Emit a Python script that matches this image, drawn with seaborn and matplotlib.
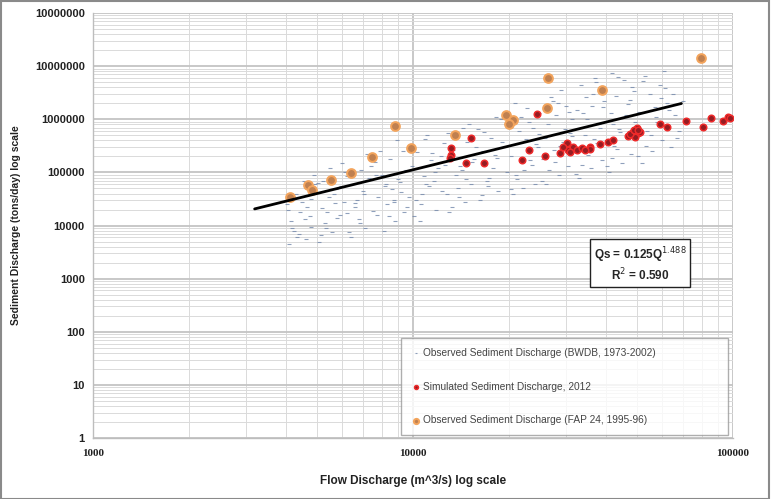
import numpy as np
import pandas as pd
import matplotlib
matplotlib.use("Agg")
import matplotlib.pyplot as plt
from matplotlib.patches import Rectangle
from matplotlib.ticker import LogLocator, FixedLocator, NullFormatter
import seaborn as sns

# ---------------- data ----------------
obs_q = [4100, 4350, 4200, 4600, 4450, 4050, 4800, 4300, 4700, 4550, 4900, 4150, 4650, 4400,
         5100, 5600, 5300, 5900, 5200, 6100, 5450, 5750, 5050, 6200, 5500, 6000, 5350, 5800, 5650,
         6400, 7100, 6800, 7500, 6600, 7800, 7000, 6500, 7300, 6900, 7600, 7200, 6700, 7700,
         8100, 8800, 9400, 8300, 9700, 8600, 9100, 8000, 9900, 8500, 9300, 8900, 9600, 8200, 9000,
         10500, 11800, 10200, 12300, 11000, 10800, 12000, 11400, 10300, 12500, 11100, 11600, 10700,
         13000, 14500, 12800, 15200, 13600, 14000, 15500, 13300, 14800, 12900, 15000, 14200, 13800,
         16200, 18500, 17000, 19600, 16800, 18000, 19200, 17500, 16000, 18800, 19800, 17300, 16500,
         20500, 22000, 24000, 21000, 23500, 20200, 24500, 22500, 21500, 23000, 24800, 20800, 22800, 23800,
         26000, 28500, 30500, 25500, 27500, 29500, 31000, 26500, 28000, 30000, 27000, 29000, 25800, 31300,
         33000, 36000, 39000, 32000, 37500, 34500, 38500, 35000, 32500, 39500, 36500, 33500, 37000, 38000, 34000,
         41000, 45000, 48000, 42500, 46500, 44000, 49500, 41500, 47000, 43000, 48500, 45500, 42000, 46000,
         52000, 56000, 60000, 54000, 58000, 51000, 62000, 55000, 59000, 53000, 61000, 57000,
         64000, 68000, 66000, 70000, 65000, 67000,
         4250, 4750, 4500, 4950, 4080, 4620, 5150, 5400, 5700, 5950, 6150, 5250, 6300, 6600, 7050,
         7400, 7650, 6850, 7900, 8400, 8700, 9200, 9500, 9800, 8250, 10100, 10600, 11200, 11700,
         12200, 10900, 12600, 13200, 13900, 14600, 15300, 13500, 15700, 16400, 17200, 17800, 18300,
         19000, 19500, 16700, 20300, 21200, 22300, 23200, 24200, 21700, 24700, 25300, 26700, 27800,
         28800, 29800, 30800, 27300, 31500, 32300, 33800, 35300, 36800, 38200, 39200, 34800, 37300,
         40500, 41800, 43500, 44500, 46200, 47800, 49000, 43800, 50500, 53500, 55500, 57500, 59500,
         61500, 63000, 52500, 42200, 36200, 28300, 22700, 18200, 14300, 11500, 8700, 6200, 4800]
obs_qs = [4500, 6000, 9000, 13000, 18000, 25000, 32000, 40000, 55000, 70000, 90000, 12000, 22000, 7000,
          5000, 7500, 11000, 16000, 21000, 28000, 35000, 48000, 62000, 85000, 120000, 150000, 9000, 14000, 40000,
          6000, 9000, 13000, 19000, 26000, 35000, 45000, 60000, 80000, 110000, 160000, 220000, 30000, 16000,
          8000, 12000, 18000, 25000, 35000, 48000, 65000, 90000, 130000, 180000, 250000, 400000, 22000, 55000, 75000,
          12000, 20000, 30000, 45000, 60000, 85000, 120000, 170000, 240000, 350000, 500000, 70000, 40000,
          18000, 28000, 40000, 60000, 90000, 130000, 180000, 260000, 380000, 550000, 800000, 110000, 50000,
          30000, 45000, 70000, 100000, 150000, 210000, 300000, 450000, 650000, 1000000, 1400000, 80000, 250000,
          40000, 50000, 60000, 90000, 140000, 200000, 300000, 420000, 600000, 900000, 1300000, 2000000, 250000, 700000,
          60000, 90000, 130000, 180000, 260000, 380000, 550000, 800000, 1200000, 1800000, 2600000, 3500000, 450000, 1000000,
          80000, 120000, 170000, 250000, 350000, 500000, 700000, 1000000, 1500000, 2200000, 3000000, 4500000, 6000000, 800000, 1300000,
          100000, 150000, 220000, 320000, 450000, 650000, 900000, 1300000, 1900000, 2700000, 4000000, 5500000, 7500000, 1100000,
          150000, 250000, 400000, 600000, 900000, 1400000, 2000000, 3000000, 4500000, 6500000, 8000000, 1700000,
          300000, 600000, 1200000, 2200000, 3000000, 450000,
          8000, 15000, 28000, 60000, 20000, 5500, 6500, 18000, 26000, 55000, 100000, 70000, 7500, 22000, 40000,
          130000, 90000, 11000, 250000, 15000, 30000, 42000, 110000, 300000, 60000, 15000, 25000, 55000, 100000,
          200000, 420000, 140000, 22000, 35000, 75000, 160000, 480000, 300000, 38000, 55000, 120000, 190000,
          380000, 800000, 580000, 48000, 75000, 110000, 170000, 340000, 1100000, 520000, 70000, 110000, 160000,
          320000, 650000, 1400000, 2200000, 480000, 95000, 140000, 210000, 420000, 850000, 1700000, 2600000, 5000000,
          130000, 190000, 280000, 580000, 1200000, 2300000, 3400000, 6200000, 200000, 320000, 500000, 1100000, 2500000,
          3800000, 1500000, 5200000, 800000, 1800000, 2000000, 1600000, 1100000, 700000, 230000, 28000, 17000, 9500]

sim_q = [13150, 13150, 13050, 15180, 14650, 16670, 21930, 23040, 24410, 25850, 28780, 30270, 30480,
         31620, 32550, 33740, 35730, 35730, 38390, 40650, 42170, 46990, 48700, 50120, 50480, 49400,
         51170, 59100, 62200, 71300, 80600, 85300, 93100, 96400, 97900, 29500, 31000, 34500, 47500, 49000, 50500]
sim_qs = [287000, 212000, 186000, 443000, 150000, 150000, 171000, 263000, 1250000, 203000, 231000, 356000, 263000,
          299000, 263000, 287000, 299000, 275000, 341000, 372000, 406000, 483000, 574000, 683000, 550000, 463000,
          574000, 813000, 713000, 925000, 713000, 1050000, 925000, 1100000, 1050000, 300000, 240000, 260000, 520000, 640000, 620000]

fap_q = [4130, 4700, 4830, 5540, 6390, 7450, 8790, 9860, 13500, 19500, 20500, 20000, 26400, 26200, 39000, 79400]
fap_qs = [34300, 57600, 46400, 71600, 97000, 194000, 745000, 287000, 500000, 1200000, 950000, 800000,
          5970000, 1620000, 3550000, 14200000]

trend_coef = 0.125
trend_exp = 1.488
trend_q_range = [3200, 69000]
r_squared = 0.590

y_ticks = [1, 10, 100, 1000, 10000, 100000, 1000000, 10000000, 100000000]
y_tick_labels = ["1", "10", "100", "1000", "10000", "100000", "1000000", "10000000", "10000000"]
x_ticks = [1000, 10000, 100000]
x_tick_labels = ["1000", "10000", "100000"]

lab_obs = "Observed Sediment Discharge (BWDB, 1973-2002)"
lab_sim = "Simulated Sediment Discharge, 2012"
lab_fap = "Observed Sediment Discharge (FAP 24, 1995-96)"

# ---------------- plot ----------------
sns.set_theme(style="white")
plt.rcParams["font.family"] = ["Liberation Sans", "DejaVu Sans"]

fig = plt.figure(figsize=(7.71, 4.99), dpi=100)
ax = fig.add_axes([0.1206, 0.1222, 0.8301, 0.8517])

df_obs = pd.DataFrame({"Q": obs_q, "Qs": obs_qs})
df_sim = pd.DataFrame({"Q": sim_q, "Qs": sim_qs})
df_fap = pd.DataFrame({"Q": fap_q, "Qs": fap_qs})

ax.set_xscale("log")
ax.set_yscale("log")

sns.scatterplot(data=df_obs, x="Q", y="Qs", ax=ax, marker="_", s=7, color="#6A80A6",
                linewidth=0.8, alpha=0.75, label=lab_obs, zorder=3)
sns.scatterplot(data=df_sim, x="Q", y="Qs", ax=ax, marker="o", s=22, color="#951C22",
                edgecolor="#EE2A2A", linewidth=1.1, label=lab_sim, zorder=4)
sns.scatterplot(data=df_fap, x="Q", y="Qs", ax=ax, marker="o", s=40, color="#BF8050",
                edgecolor="#F3A45C", linewidth=1.4, label=lab_fap, zorder=5)

tq = np.array(trend_q_range, dtype=float)
sns.lineplot(x=tq, y=trend_coef * tq ** trend_exp, ax=ax, color="black", linewidth=2.0, zorder=6)

ax.set_xlim(1000, 100000)
ax.set_ylim(1, 100000000)

ax.xaxis.set_major_locator(FixedLocator(x_ticks))
ax.set_xticklabels(x_tick_labels, fontsize=8, fontweight="bold", family="Liberation Serif", color="#222222")
ax.yaxis.set_major_locator(FixedLocator(y_ticks))
ax.set_yticklabels(y_tick_labels, fontsize=8, fontweight="bold", color="#222222")
ax.xaxis.set_minor_locator(LogLocator(base=10, subs=np.arange(2, 10)))
ax.yaxis.set_minor_locator(LogLocator(base=10, subs=np.arange(2, 10)))
ax.xaxis.set_minor_formatter(NullFormatter())
ax.yaxis.set_minor_formatter(NullFormatter())
ax.tick_params(axis="both", which="both", length=0)
ax.tick_params(axis="x", pad=8)
ax.tick_params(axis="y", pad=6)

ax.grid(True, which="major", color="#C4C4C4", linewidth=1.3, zorder=0)
ax.grid(True, which="minor", color="#DADADA", linewidth=0.7, zorder=0)
ax.set_axisbelow(True)

for side in ["top", "right"]:
    ax.spines[side].set_visible(False)
for side in ["left", "bottom"]:
    ax.spines[side].set_color("#BDBDBD")
    ax.spines[side].set_linewidth(1.0)

ax.set_xlabel("Flow Discharge (m^3/s) log scale", fontsize=8.5, fontweight="bold", color="#222222", labelpad=12)
ax.set_ylabel("Sediment Discharge (tons/day) log scale", fontsize=7.5, fontweight="bold", color="#222222", labelpad=10)

leg = ax.legend(loc="lower left", bbox_to_anchor=(0.481, 0.007, 0.511, 0.231), mode="expand",
                fontsize=7.3, frameon=True, fancybox=False, labelspacing=2.35, handletextpad=0.2,
                handlelength=1.0, borderpad=0.95, borderaxespad=0, markerscale=0.6)
leg.get_frame().set_edgecolor("#9A9A9A")
leg.get_frame().set_linewidth(1.0)
for t in leg.get_texts():
    t.set_color("#444444")

ax.text(0.855, 0.409, "Qs = 0.125Q$^{%.3f}$\nR$^{2}$ = %.3f" % (trend_exp, r_squared),
        transform=ax.transAxes, ha="center", va="center", fontsize=8.5, fontweight="bold",
        linespacing=1.15, zorder=7,
        bbox=dict(boxstyle="square,pad=0.3", facecolor="white", edgecolor="#222222", linewidth=1.0))

fig.patches.append(Rectangle((0.001, 0.001), 0.997, 0.997, transform=fig.transFigure,
                             fill=False, edgecolor="#8A8A8A", linewidth=1.5))

fig.savefig("out.png", dpi=100)
